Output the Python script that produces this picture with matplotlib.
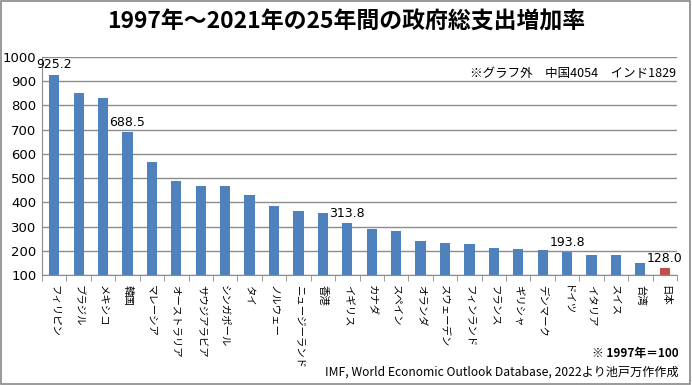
import matplotlib
matplotlib.use("Agg")
import matplotlib.pyplot as plt
from matplotlib.patches import Rectangle

plt.rcParams['font.family'] = ['Noto Sans CJK JP', 'DejaVu Sans']

countries = ["フィリピン", "ブラジル", "メキシコ", "韓国", "マレーシア", "オーストラリア",
             "サウジアラビア", "シンガポール", "タイ", "ノルウェー", "ニュージーランド", "香港",
             "イギリス", "カナダ", "スペイン", "オランダ", "スウェーデン", "フィンランド",
             "フランス", "ギリシャ", "デンマーク", "ドイツ", "イタリア", "スイス", "台湾", "日本"]
values = [925.2, 851, 830, 688.5, 565, 490, 469, 469, 432, 386, 365, 357,
          313.8, 291, 283, 241, 233, 229, 212, 208, 204, 193.8, 183, 183, 150, 128.0]
labeled = {"フィリピン": "925.2", "韓国": "688.5", "イギリス": "313.8", "ドイツ": "193.8", "日本": "128.0"}
yticks = [100, 200, 300, 400, 500, 600, 700, 800, 900, 1000]

fig = plt.figure(figsize=(6.92, 3.85), dpi=100)
fig.patches.append(Rectangle((0.002, 0.003), 0.995, 0.994, transform=fig.transFigure,
                             fill=False, edgecolor="#888888", linewidth=1.2))
ax = fig.add_axes([42/692, 1-275/385, (677-42)/692, (275-57)/385])

colors = ["#C0504D" if c == "日本" else "#4F81BD" for c in countries]
x = list(range(len(countries)))
ax.bar(x, values, width=0.42, color=colors, bottom=0, zorder=3)
ax.set_ylim(100, 1000)
ax.set_xlim(-0.5, len(countries) - 0.5)
ax.set_yticks(yticks)
ax.set_yticklabels([str(v) for v in yticks], fontsize=9.5, family="DejaVu Sans")
ax.yaxis.grid(True, color="#8c8c8c", linewidth=1, zorder=0)
ax.tick_params(axis='y', length=0, pad=4)

ax.set_xticks(x)
ax.set_xticklabels(countries, rotation=270, fontsize=7.5, va='top', ha='center')
ax.tick_params(axis='x', length=0, pad=7)
# minor ticks between categories
ax.set_xticks([i - 0.5 for i in range(len(countries) + 1)], minor=True)
ax.tick_params(axis='x', which='minor', length=4, color="#8c8c8c", direction='out')

for s in ["top", "right"]:
    ax.spines[s].set_visible(False)
ax.spines["left"].set_color("#8c8c8c")
ax.spines["bottom"].set_color("#8c8c8c")

for i, (c, v) in enumerate(zip(countries, values)):
    if c in labeled:
        ax.text(i, v + 15, labeled[c], ha='center', va='bottom', fontsize=9, family="DejaVu Sans", zorder=4)

fig.text(0.5, 1 - 22/385, "1997年～2021年の25年間の政府総支出増加率", ha='center', va='center',
         fontsize=16.5, fontweight='bold')
fig.text(676/692, 1 - 73/385, "※グラフ外　中国4054　インド1829", ha='right', va='center', fontsize=9)
fig.text(679/692, 1 - 354/385, "※ 1997年＝100", ha='right', va='center', fontsize=8.5, fontweight='bold')
fig.text(679/692, 1 - 372/385, "IMF, World Economic Outlook Database, 2022より池戸万作作成", ha='right',
         va='center', fontsize=8.7)

fig.savefig("out.png", dpi=100)
